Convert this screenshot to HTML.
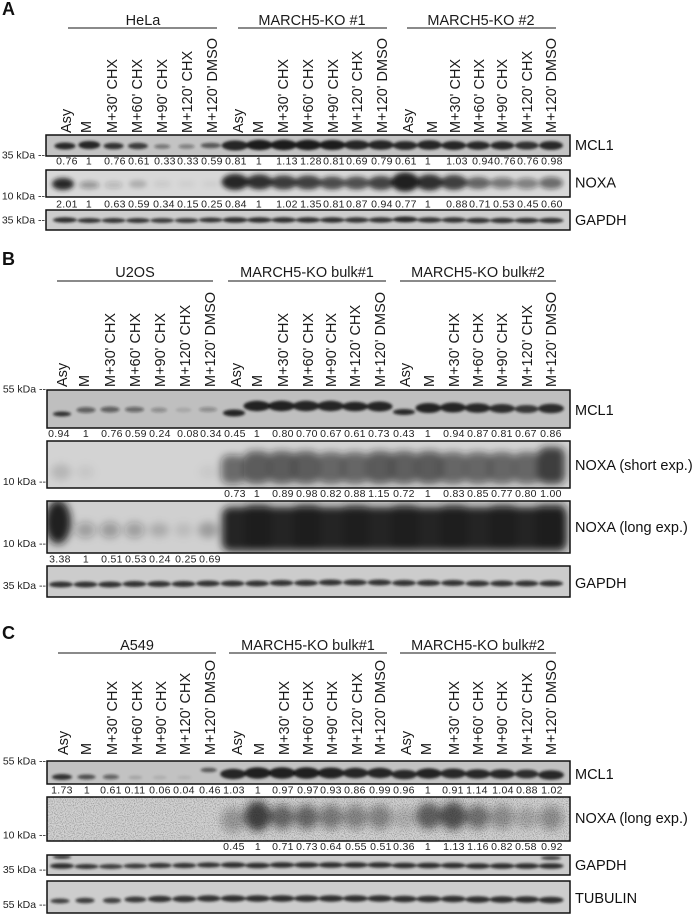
<!DOCTYPE html>
<html><head><meta charset="utf-8"><style>
html,body{margin:0;padding:0;background:#fff;}
svg{display:block;}
text{font-family:"Liberation Sans",Arial,sans-serif;}
.lab{font-size:14.5px;fill:#1a1a1a;}
.hdr{font-size:14.5px;fill:#1a1a1a;text-anchor:middle;}
.num{font-size:10.5px;fill:#222;text-anchor:middle;letter-spacing:0.3px;}
.mk{font-size:10.5px;fill:#222;text-anchor:end;}
.rl{font-size:14.5px;fill:#111;}
.pl{font-size:18px;font-weight:bold;fill:#111;}
.box{fill:none;stroke:#111;stroke-width:1.5;}
.ln{stroke:#444;stroke-width:1.3;}
</style></head><body>
<svg width="697" height="914" viewBox="0 0 697 914" xmlns="http://www.w3.org/2000/svg">
<defs>
<filter id="b1" x="-50%" y="-100%" width="200%" height="300%"><feGaussianBlur stdDeviation="1.3"/></filter>
<filter id="b2" x="-50%" y="-100%" width="200%" height="300%"><feGaussianBlur stdDeviation="2.5"/></filter>
<filter id="b3" x="-50%" y="-50%" width="200%" height="200%"><feGaussianBlur stdDeviation="4"/></filter>
<filter id="noise" x="0" y="0" width="100%" height="100%">
<feTurbulence type="fractalNoise" baseFrequency="0.9" numOctaves="1" seed="3" result="t"/>
<feColorMatrix in="t" type="matrix" values="0 0 0 0 0  0 0 0 0 0  0 0 0 0 0  0 0 0 -2.2 1.25" />
</filter>
<clipPath id="cA1"><rect x="46" y="135" width="524" height="21"/></clipPath>
<clipPath id="cA2"><rect x="46" y="170" width="524" height="27"/></clipPath>
<clipPath id="cA3"><rect x="46" y="210" width="524" height="20"/></clipPath>
<clipPath id="cB1"><rect x="47" y="390" width="523" height="38"/></clipPath>
<clipPath id="cB2"><rect x="47" y="441" width="523" height="47"/></clipPath>
<clipPath id="cB3"><rect x="47" y="501" width="523" height="52"/></clipPath>
<clipPath id="cB4"><rect x="47" y="566" width="523" height="31"/></clipPath>
<clipPath id="cC1"><rect x="47" y="761" width="523" height="23"/></clipPath>
<clipPath id="cC2"><rect x="47" y="797" width="523" height="44"/></clipPath>
<clipPath id="cC3"><rect x="47" y="855" width="523" height="20"/></clipPath>
<clipPath id="cC4"><rect x="47" y="881" width="523" height="32"/></clipPath>
</defs>

<!-- ================= PANEL A ================= -->
<text class="pl" x="2" y="15">A</text>
<text class="hdr" x="143" y="25">HeLa</text>
<text class="hdr" x="312" y="25">MARCH5-KO #1</text>
<text class="hdr" x="481" y="25">MARCH5-KO #2</text>
<line class="ln" x1="68" y1="28" x2="217" y2="28"/>
<line class="ln" x1="238" y1="28" x2="387" y2="28"/>
<line class="ln" x1="407" y1="28" x2="556" y2="28"/>

<g class="lab">
<text transform="translate(71,133) rotate(-90)">Asy</text>
<text transform="translate(91,133) rotate(-90)">M</text>
<text transform="translate(117,133) rotate(-90)">M+30' CHX</text>
<text transform="translate(142,133) rotate(-90)">M+60' CHX</text>
<text transform="translate(167,133) rotate(-90)">M+90' CHX</text>
<text transform="translate(192,133) rotate(-90)">M+120' CHX</text>
<text transform="translate(217,133) rotate(-90)">M+120' DMSO</text>
<text transform="translate(243,133) rotate(-90)">Asy</text>
<text transform="translate(263,133) rotate(-90)">M</text>
<text transform="translate(288,133) rotate(-90)">M+30' CHX</text>
<text transform="translate(313,133) rotate(-90)">M+60' CHX</text>
<text transform="translate(338,133) rotate(-90)">M+90' CHX</text>
<text transform="translate(362,133) rotate(-90)">M+120' CHX</text>
<text transform="translate(387,133) rotate(-90)">M+120' DMSO</text>
<text transform="translate(413,133) rotate(-90)">Asy</text>
<text transform="translate(437,133) rotate(-90)">M</text>
<text transform="translate(460,133) rotate(-90)">M+30' CHX</text>
<text transform="translate(484,133) rotate(-90)">M+60' CHX</text>
<text transform="translate(507,133) rotate(-90)">M+90' CHX</text>
<text transform="translate(532,133) rotate(-90)">M+120' CHX</text>
<text transform="translate(556,133) rotate(-90)">M+120' DMSO</text>
</g>

<!-- A MCL1 -->
<rect x="46" y="135" width="524" height="21" fill="#c3c3c3"/>
<g clip-path="url(#cA1)"><g fill="#1a1a1a" filter="url(#b1)">
<ellipse cx="65" cy="146" rx="10.5" ry="3.5" opacity="0.9"/>
<ellipse cx="89.3" cy="145" rx="11" ry="4" opacity="0.95"/>
<ellipse cx="113.6" cy="146" rx="10" ry="3.3" opacity="0.85"/>
<ellipse cx="137.9" cy="146" rx="10" ry="3.2" opacity="0.8"/>
<ellipse cx="162.2" cy="146.5" rx="8" ry="2.3" opacity="0.45"/>
<ellipse cx="186.5" cy="146.5" rx="8" ry="2.3" opacity="0.4"/>
<ellipse cx="210.8" cy="145.5" rx="10" ry="2.8" opacity="0.65"/>
<ellipse cx="235.1" cy="145.5" rx="13.5" ry="5" opacity="0.95"/>
<ellipse cx="259.4" cy="145" rx="13.5" ry="5.2" opacity="1"/>
<ellipse cx="283.7" cy="145" rx="13.5" ry="5.2" opacity="1"/>
<ellipse cx="308" cy="145" rx="13.5" ry="5.2" opacity="1"/>
<ellipse cx="332.3" cy="145" rx="13.5" ry="5" opacity="1"/>
<ellipse cx="356.6" cy="145" rx="13" ry="4.7" opacity="0.95"/>
<ellipse cx="380.9" cy="145" rx="13" ry="4.7" opacity="0.95"/>
<ellipse cx="405.2" cy="145.5" rx="12.5" ry="4.4" opacity="0.9"/>
<ellipse cx="429.5" cy="145" rx="12.5" ry="4.7" opacity="0.95"/>
<ellipse cx="453.8" cy="145.5" rx="12.5" ry="4.5" opacity="0.95"/>
<ellipse cx="478.1" cy="145.5" rx="12" ry="4.2" opacity="0.9"/>
<ellipse cx="502.4" cy="145.5" rx="12" ry="4.2" opacity="0.9"/>
<ellipse cx="526.7" cy="145.5" rx="12" ry="4" opacity="0.85"/>
<ellipse cx="551" cy="145.5" rx="12" ry="4.4" opacity="0.9"/>
</g></g>
<rect class="box" x="46" y="135" width="524" height="21"/>
<g class="num">
<text x="67" y="164.5">0.76</text><text x="89" y="164.5">1</text><text x="115" y="164.5">0.76</text><text x="139" y="164.5">0.61</text><text x="165" y="164.5">0.33</text><text x="188" y="164.5">0.33</text><text x="212" y="164.5">0.59</text><text x="236" y="164.5">0.81</text><text x="259" y="164.5">1</text><text x="287" y="164.5">1.13</text><text x="311" y="164.5">1.28</text><text x="334" y="164.5">0.81</text><text x="357" y="164.5">0.69</text><text x="382" y="164.5">0.79</text><text x="406" y="164.5">0.61</text><text x="428" y="164.5">1</text><text x="457" y="164.5">1.03</text><text x="483" y="164.5">0.94</text><text x="505" y="164.5">0.76</text><text x="528" y="164.5">0.76</text><text x="552" y="164.5">0.98</text>
</g>

<!-- A NOXA -->
<rect x="46" y="170" width="524" height="27" fill="#d8d8d8"/>
<g clip-path="url(#cA2)"><g fill="#1a1a1a" filter="url(#b2)">
<ellipse cx="63" cy="184" rx="11" ry="6" opacity="0.95"/>
<ellipse cx="89.3" cy="185" rx="10" ry="3.8" opacity="0.35"/>
<ellipse cx="113.6" cy="185" rx="9" ry="3.5" opacity="0.18"/>
<ellipse cx="137.9" cy="184" rx="9" ry="4" opacity="0.2"/>
<ellipse cx="162.2" cy="184" rx="9" ry="4" opacity="0.06"/>
<ellipse cx="186.5" cy="184" rx="9" ry="4" opacity="0.04"/>
<ellipse cx="210.8" cy="184" rx="9" ry="4" opacity="0.04"/>
<ellipse cx="235.1" cy="182" rx="13.5" ry="8" opacity="0.92"/>
<ellipse cx="259.4" cy="182" rx="13.5" ry="7.5" opacity="0.88"/>
<ellipse cx="283.7" cy="182.5" rx="13.5" ry="7" opacity="0.82"/>
<ellipse cx="308" cy="182.5" rx="13.5" ry="7" opacity="0.8"/>
<ellipse cx="332.3" cy="183" rx="13" ry="6.5" opacity="0.74"/>
<ellipse cx="356.6" cy="183" rx="13" ry="6.5" opacity="0.72"/>
<ellipse cx="380.9" cy="183" rx="13" ry="7" opacity="0.78"/>
<ellipse cx="405.2" cy="182" rx="14" ry="9.5" opacity="0.98"/>
<ellipse cx="429.5" cy="182.5" rx="13.5" ry="8" opacity="0.88"/>
<ellipse cx="453.8" cy="182.5" rx="13.5" ry="7.5" opacity="0.8"/>
<ellipse cx="478.1" cy="183" rx="12.5" ry="6" opacity="0.62"/>
<ellipse cx="502.4" cy="183" rx="12.5" ry="5.5" opacity="0.5"/>
<ellipse cx="526.7" cy="183.5" rx="12" ry="5.5" opacity="0.45"/>
<ellipse cx="551" cy="183" rx="12" ry="6" opacity="0.55"/>
</g></g>
<rect class="box" x="46" y="170" width="524" height="27"/>
<g class="num">
<text x="67" y="207.5">2.01</text><text x="89" y="207.5">1</text><text x="115" y="207.5">0.63</text><text x="139" y="207.5">0.59</text><text x="164" y="207.5">0.34</text><text x="188" y="207.5">0.15</text><text x="212" y="207.5">0.25</text><text x="236" y="207.5">0.84</text><text x="259" y="207.5">1</text><text x="287" y="207.5">1.02</text><text x="311" y="207.5">1.35</text><text x="334" y="207.5">0.81</text><text x="357" y="207.5">0.87</text><text x="382" y="207.5">0.94</text><text x="406" y="207.5">0.77</text><text x="428" y="207.5">1</text><text x="457" y="207.5">0.88</text><text x="480" y="207.5">0.71</text><text x="504" y="207.5">0.53</text><text x="528" y="207.5">0.45</text><text x="552" y="207.5">0.60</text>
</g>

<!-- A GAPDH -->
<rect x="46" y="210" width="524" height="20" fill="#cdcdcd"/>
<g clip-path="url(#cA3)"><g fill="#1a1a1a" filter="url(#b1)">
<ellipse cx="65" cy="220" rx="12" ry="2.7" opacity="0.88"/>
<ellipse cx="89.3" cy="220.5" rx="12" ry="2.5" opacity="0.85"/>
<ellipse cx="113.6" cy="220.5" rx="12" ry="2.5" opacity="0.85"/>
<ellipse cx="137.9" cy="220.5" rx="12" ry="2.5" opacity="0.85"/>
<ellipse cx="162.2" cy="220.5" rx="12" ry="2.4" opacity="0.82"/>
<ellipse cx="186.5" cy="220.5" rx="12" ry="2.4" opacity="0.82"/>
<ellipse cx="210.8" cy="220" rx="12" ry="2.5" opacity="0.85"/>
<ellipse cx="235.1" cy="220" rx="12.5" ry="2.8" opacity="0.88"/>
<ellipse cx="259.4" cy="220" rx="12.5" ry="2.7" opacity="0.88"/>
<ellipse cx="283.7" cy="220" rx="12.5" ry="2.7" opacity="0.88"/>
<ellipse cx="308" cy="220" rx="12.5" ry="2.7" opacity="0.88"/>
<ellipse cx="332.3" cy="220" rx="12.5" ry="2.7" opacity="0.88"/>
<ellipse cx="356.6" cy="220" rx="12.5" ry="2.7" opacity="0.85"/>
<ellipse cx="380.9" cy="220" rx="12.5" ry="2.7" opacity="0.85"/>
<ellipse cx="405.2" cy="219.5" rx="12.5" ry="3" opacity="0.9"/>
<ellipse cx="429.5" cy="220" rx="12.5" ry="2.7" opacity="0.85"/>
<ellipse cx="453.8" cy="220" rx="12.5" ry="2.7" opacity="0.85"/>
<ellipse cx="478.1" cy="220.5" rx="12.5" ry="2.7" opacity="0.85"/>
<ellipse cx="502.4" cy="220.5" rx="12.5" ry="2.7" opacity="0.85"/>
<ellipse cx="526.7" cy="220.5" rx="12.5" ry="2.7" opacity="0.85"/>
<ellipse cx="551" cy="220.5" rx="12.5" ry="2.7" opacity="0.85"/>
</g></g>
<rect class="box" x="46" y="210" width="524" height="20"/>

<g class="mk">
<text x="45" y="158.5">35 kDa --</text>
<text x="45" y="199.5">10 kDa --</text>
<text x="45" y="223.5">35 kDa --</text>
</g>
<g class="rl">
<text x="575" y="150">MCL1</text>
<text x="575" y="187.5">NOXA</text>
<text x="575" y="225">GAPDH</text>
</g>

<!-- ================= PANEL B ================= -->
<text class="pl" x="2" y="265">B</text>
<text class="hdr" x="135" y="277">U2OS</text>
<text class="hdr" x="307" y="277">MARCH5-KO bulk#1</text>
<text class="hdr" x="478" y="277">MARCH5-KO bulk#2</text>
<line class="ln" x1="57" y1="281" x2="213" y2="281"/>
<line class="ln" x1="228" y1="281" x2="386" y2="281"/>
<line class="ln" x1="400" y1="281" x2="556" y2="281"/>

<g class="lab">
<text transform="translate(67,387) rotate(-90)">Asy</text>
<text transform="translate(89,387) rotate(-90)">M</text>
<text transform="translate(115,387) rotate(-90)">M+30' CHX</text>
<text transform="translate(140,387) rotate(-90)">M+60' CHX</text>
<text transform="translate(165,387) rotate(-90)">M+90' CHX</text>
<text transform="translate(190,387) rotate(-90)">M+120' CHX</text>
<text transform="translate(215,387) rotate(-90)">M+120' DMSO</text>
<text transform="translate(241,387) rotate(-90)">Asy</text>
<text transform="translate(262,387) rotate(-90)">M</text>
<text transform="translate(288,387) rotate(-90)">M+30' CHX</text>
<text transform="translate(313,387) rotate(-90)">M+60' CHX</text>
<text transform="translate(336,387) rotate(-90)">M+90' CHX</text>
<text transform="translate(360,387) rotate(-90)">M+120' CHX</text>
<text transform="translate(385,387) rotate(-90)">M+120' DMSO</text>
<text transform="translate(410,387) rotate(-90)">Asy</text>
<text transform="translate(434,387) rotate(-90)">M</text>
<text transform="translate(459,387) rotate(-90)">M+30' CHX</text>
<text transform="translate(483,387) rotate(-90)">M+60' CHX</text>
<text transform="translate(507,387) rotate(-90)">M+90' CHX</text>
<text transform="translate(532,387) rotate(-90)">M+120' CHX</text>
<text transform="translate(556,387) rotate(-90)">M+120' DMSO</text>
</g>

<!-- B MCL1 -->
<rect x="47" y="390" width="523" height="38" fill="#bfbfbf"/>
<g clip-path="url(#cB1)"><g fill="#1a1a1a" filter="url(#b1)">
<ellipse cx="62" cy="414" rx="9" ry="2.5" opacity="0.85"/>
<ellipse cx="86" cy="410" rx="9.5" ry="3" opacity="0.55"/>
<ellipse cx="110" cy="409.5" rx="9.5" ry="3" opacity="0.55"/>
<ellipse cx="134.5" cy="409.5" rx="9.5" ry="2.8" opacity="0.5"/>
<ellipse cx="159" cy="410" rx="8" ry="2.5" opacity="0.3"/>
<ellipse cx="183.5" cy="410" rx="8" ry="2.5" opacity="0.12"/>
<ellipse cx="208" cy="409.5" rx="9" ry="2.5" opacity="0.3"/>
<ellipse cx="234" cy="413" rx="11" ry="3.5" opacity="0.92"/>
<ellipse cx="257" cy="406" rx="13.5" ry="5.2" opacity="0.97"/>
<ellipse cx="281.5" cy="406" rx="13.5" ry="5.2" opacity="0.97"/>
<ellipse cx="306" cy="406" rx="13.5" ry="5.2" opacity="0.95"/>
<ellipse cx="330.5" cy="406" rx="13.5" ry="5.2" opacity="0.95"/>
<ellipse cx="355" cy="406.5" rx="13" ry="4.8" opacity="0.92"/>
<ellipse cx="379.5" cy="406.5" rx="13" ry="5" opacity="0.95"/>
<ellipse cx="404" cy="412" rx="11" ry="3" opacity="0.9"/>
<ellipse cx="428.5" cy="408" rx="13" ry="5" opacity="0.93"/>
<ellipse cx="453" cy="407.5" rx="13" ry="5" opacity="0.92"/>
<ellipse cx="477.5" cy="408" rx="13" ry="4.7" opacity="0.9"/>
<ellipse cx="502" cy="408.5" rx="13" ry="4.5" opacity="0.87"/>
<ellipse cx="526.5" cy="409" rx="12" ry="4" opacity="0.82"/>
<ellipse cx="551" cy="408.5" rx="13" ry="4.7" opacity="0.88"/>
</g></g>
<rect class="box" x="47" y="390" width="523" height="38"/>
<g class="num">
<text x="59" y="437">0.94</text><text x="86" y="437">1</text><text x="112" y="437">0.76</text><text x="136" y="437">0.59</text><text x="160" y="437">0.24</text><text x="188" y="437">0.08</text><text x="211" y="437">0.34</text><text x="235" y="437">0.45</text><text x="257" y="437">1</text><text x="283" y="437">0.80</text><text x="307" y="437">0.70</text><text x="331" y="437">0.67</text><text x="355" y="437">0.61</text><text x="379" y="437">0.73</text><text x="404" y="437">0.43</text><text x="428" y="437">1</text><text x="454" y="437">0.94</text><text x="478" y="437">0.87</text><text x="502" y="437">0.81</text><text x="526" y="437">0.67</text><text x="551" y="437">0.86</text>
</g>

<!-- B NOXA short -->
<rect x="47" y="441" width="523" height="47" fill="#d3d3d3"/>
<g clip-path="url(#cB2)"><g fill="#1a1a1a" filter="url(#b3)">
<ellipse cx="61" cy="472" rx="10" ry="8" opacity="0.14"/>
<ellipse cx="85.5" cy="472" rx="9" ry="7" opacity="0.06"/>
<ellipse cx="208" cy="472" rx="9" ry="7" opacity="0.05"/>
<rect x="221" y="455" width="24" height="29" rx="8" opacity="0.55"/>
<rect x="244" y="451" width="26" height="33" rx="8" opacity="0.65"/>
<rect x="269" y="451" width="26" height="33" rx="8" opacity="0.65"/>
<rect x="293" y="451" width="26" height="33" rx="8" opacity="0.65"/>
<rect x="318" y="452" width="26" height="32" rx="8" opacity="0.6"/>
<rect x="342" y="452" width="26" height="32" rx="8" opacity="0.6"/>
<rect x="367" y="451" width="26" height="33" rx="8" opacity="0.66"/>
<rect x="391" y="451" width="26" height="33" rx="8" opacity="0.64"/>
<rect x="416" y="451" width="26" height="33" rx="8" opacity="0.66"/>
<rect x="440" y="452" width="26" height="32" rx="8" opacity="0.6"/>
<rect x="465" y="452" width="26" height="32" rx="8" opacity="0.6"/>
<rect x="489" y="452" width="26" height="32" rx="8" opacity="0.6"/>
<rect x="514" y="452" width="26" height="32" rx="8" opacity="0.6"/>
<rect x="538" y="447" width="27" height="37" rx="8" opacity="0.8"/>
</g></g>
<rect class="box" x="47" y="441" width="523" height="47"/>
<g class="num">
<text x="235" y="497">0.73</text><text x="257" y="497">1</text><text x="283" y="497">0.89</text><text x="307" y="497">0.98</text><text x="331" y="497">0.82</text><text x="355" y="497">0.88</text><text x="379" y="497">1.15</text><text x="404" y="497">0.72</text><text x="428" y="497">1</text><text x="454" y="497">0.83</text><text x="478" y="497">0.85</text><text x="502" y="497">0.77</text><text x="526" y="497">0.80</text><text x="551" y="497">1.00</text>
</g>

<!-- B NOXA long -->
<rect x="47" y="501" width="523" height="52" fill="#d0d0d0"/>
<g clip-path="url(#cB3)"><g fill="#141414" filter="url(#b3)">
<ellipse cx="58" cy="522" rx="13" ry="22" opacity="0.95"/>
<ellipse cx="85.5" cy="530" rx="10" ry="8" opacity="0.28"/>
<ellipse cx="110" cy="530" rx="10" ry="8" opacity="0.3"/>
<ellipse cx="134.5" cy="530" rx="10" ry="8" opacity="0.28"/>
<ellipse cx="159" cy="530" rx="10" ry="7" opacity="0.18"/>
<ellipse cx="183.5" cy="530" rx="9" ry="7" opacity="0.1"/>
<ellipse cx="208" cy="530" rx="10" ry="8" opacity="0.25"/>
<rect x="222" y="507" width="345" height="44" rx="8" opacity="0.93"/>
<rect x="245" y="503" width="26" height="48" rx="6" opacity="0.5"/>
<rect x="294" y="503" width="26" height="48" rx="6" opacity="0.5"/>
<rect x="343" y="503" width="26" height="48" rx="6" opacity="0.4"/>
<rect x="392" y="503" width="26" height="48" rx="6" opacity="0.45"/>
<rect x="441" y="503" width="26" height="48" rx="6" opacity="0.45"/>
<rect x="490" y="503" width="26" height="48" rx="6" opacity="0.45"/>
<rect x="536" y="503" width="30" height="48" rx="6" opacity="0.5"/>
</g></g>
<rect class="box" x="47" y="501" width="523" height="52"/>
<g class="num">
<text x="60" y="562.5">3.38</text><text x="86" y="562.5">1</text><text x="112" y="562.5">0.51</text><text x="136" y="562.5">0.53</text><text x="160" y="562.5">0.24</text><text x="186" y="562.5">0.25</text><text x="210" y="562.5">0.69</text>
</g>

<!-- B GAPDH -->
<rect x="47" y="566" width="523" height="31" fill="#cccccc"/>
<g clip-path="url(#cB4)"><g fill="#1a1a1a" filter="url(#b1)">
<ellipse cx="61" cy="584.5" rx="12" ry="3" opacity="0.85"/>
<ellipse cx="85.5" cy="584.5" rx="12" ry="3" opacity="0.85"/>
<ellipse cx="110" cy="584.5" rx="12" ry="3" opacity="0.85"/>
<ellipse cx="134.5" cy="584" rx="12" ry="3" opacity="0.85"/>
<ellipse cx="159" cy="584" rx="12" ry="3" opacity="0.85"/>
<ellipse cx="183.5" cy="584" rx="12" ry="3" opacity="0.85"/>
<ellipse cx="208" cy="583.5" rx="12" ry="3" opacity="0.85"/>
<ellipse cx="232.5" cy="583.5" rx="12" ry="3" opacity="0.85"/>
<ellipse cx="257" cy="583.5" rx="12" ry="3" opacity="0.85"/>
<ellipse cx="281.5" cy="583" rx="12" ry="3" opacity="0.85"/>
<ellipse cx="306" cy="583" rx="12" ry="3" opacity="0.85"/>
<ellipse cx="330.5" cy="582.5" rx="12" ry="3" opacity="0.85"/>
<ellipse cx="355" cy="582.5" rx="12" ry="3" opacity="0.85"/>
<ellipse cx="379.5" cy="582.5" rx="12" ry="3" opacity="0.85"/>
<ellipse cx="404" cy="583" rx="12" ry="3" opacity="0.85"/>
<ellipse cx="428.5" cy="583" rx="12" ry="3" opacity="0.85"/>
<ellipse cx="453" cy="583" rx="12" ry="3" opacity="0.85"/>
<ellipse cx="477.5" cy="583.5" rx="12" ry="3" opacity="0.85"/>
<ellipse cx="502" cy="583.5" rx="12" ry="3" opacity="0.85"/>
<ellipse cx="526.5" cy="583.5" rx="12" ry="3" opacity="0.85"/>
<ellipse cx="551" cy="583.5" rx="12" ry="3" opacity="0.85"/>
</g></g>
<rect class="box" x="47" y="566" width="523" height="31"/>

<g class="mk">
<text x="46" y="392.5">55 kDa --</text>
<text x="46" y="485">10 kDa --</text>
<text x="46" y="547">10 kDa --</text>
<text x="46" y="589">35 kDa --</text>
</g>
<g class="rl">
<text x="575" y="415">MCL1</text>
<text x="575" y="470">NOXA (short exp.)</text>
<text x="575" y="532">NOXA (long exp.)</text>
<text x="575" y="588">GAPDH</text>
</g>

<!-- ================= PANEL C ================= -->
<text class="pl" x="2" y="639">C</text>
<text class="hdr" x="137" y="650">A549</text>
<text class="hdr" x="308" y="650">MARCH5-KO bulk#1</text>
<text class="hdr" x="478" y="650">MARCH5-KO bulk#2</text>
<line class="ln" x1="58" y1="653" x2="216" y2="653"/>
<line class="ln" x1="229" y1="653" x2="387" y2="653"/>
<line class="ln" x1="400" y1="653" x2="556" y2="653"/>

<g class="lab">
<text transform="translate(68,755) rotate(-90)">Asy</text>
<text transform="translate(91,755) rotate(-90)">M</text>
<text transform="translate(117,755) rotate(-90)">M+30' CHX</text>
<text transform="translate(142,755) rotate(-90)">M+60' CHX</text>
<text transform="translate(166,755) rotate(-90)">M+90' CHX</text>
<text transform="translate(190,755) rotate(-90)">M+120' CHX</text>
<text transform="translate(215,755) rotate(-90)">M+120' DMSO</text>
<text transform="translate(242,755) rotate(-90)">Asy</text>
<text transform="translate(264,755) rotate(-90)">M</text>
<text transform="translate(289,755) rotate(-90)">M+30' CHX</text>
<text transform="translate(313,755) rotate(-90)">M+60' CHX</text>
<text transform="translate(337,755) rotate(-90)">M+90' CHX</text>
<text transform="translate(362,755) rotate(-90)">M+120' CHX</text>
<text transform="translate(385,755) rotate(-90)">M+120' DMSO</text>
<text transform="translate(411,755) rotate(-90)">Asy</text>
<text transform="translate(431,755) rotate(-90)">M</text>
<text transform="translate(459,755) rotate(-90)">M+30' CHX</text>
<text transform="translate(483,755) rotate(-90)">M+60' CHX</text>
<text transform="translate(507,755) rotate(-90)">M+90' CHX</text>
<text transform="translate(532,755) rotate(-90)">M+120' CHX</text>
<text transform="translate(556,755) rotate(-90)">M+120' DMSO</text>
</g>

<!-- C MCL1 -->
<rect x="47" y="761" width="523" height="23" fill="#c2c2c2"/>
<g clip-path="url(#cC1)"><g fill="#1a1a1a" filter="url(#b1)">
<ellipse cx="62" cy="777" rx="10" ry="3" opacity="0.85"/>
<ellipse cx="86.5" cy="777" rx="9" ry="2.5" opacity="0.7"/>
<ellipse cx="110.9" cy="777" rx="8" ry="2.5" opacity="0.55"/>
<ellipse cx="135.4" cy="777.5" rx="7" ry="2" opacity="0.15"/>
<ellipse cx="159.8" cy="777.5" rx="7" ry="2" opacity="0.1"/>
<ellipse cx="184.3" cy="777.5" rx="7" ry="2" opacity="0.08"/>
<ellipse cx="208.7" cy="770" rx="8" ry="2.3" opacity="0.65"/>
<ellipse cx="233.2" cy="774" rx="13" ry="5.2" opacity="0.95"/>
<ellipse cx="257.6" cy="773" rx="13.5" ry="5.7" opacity="0.98"/>
<ellipse cx="282.1" cy="773" rx="13.5" ry="5.7" opacity="0.98"/>
<ellipse cx="306.5" cy="773" rx="13.5" ry="5.7" opacity="0.98"/>
<ellipse cx="331" cy="773" rx="13.5" ry="5.5" opacity="0.97"/>
<ellipse cx="355.4" cy="773" rx="13" ry="5.2" opacity="0.95"/>
<ellipse cx="379.9" cy="773" rx="13" ry="5.2" opacity="0.95"/>
<ellipse cx="404.3" cy="774.5" rx="13" ry="4.7" opacity="0.9"/>
<ellipse cx="428.8" cy="773.5" rx="13" ry="5.2" opacity="0.93"/>
<ellipse cx="453.2" cy="773.5" rx="13" ry="5" opacity="0.9"/>
<ellipse cx="477.7" cy="774" rx="13" ry="4.7" opacity="0.9"/>
<ellipse cx="502.1" cy="774" rx="13" ry="4.7" opacity="0.9"/>
<ellipse cx="526.6" cy="774" rx="12" ry="4.4" opacity="0.87"/>
<ellipse cx="551" cy="775" rx="13" ry="4.7" opacity="0.9"/>
</g></g>
<rect class="box" x="47" y="761" width="523" height="23"/>
<g class="num">
<text x="62" y="793.5">1.73</text><text x="87" y="793.5">1</text><text x="111" y="793.5">0.61</text><text x="135" y="793.5">0.11</text><text x="160" y="793.5">0.06</text><text x="184" y="793.5">0.04</text><text x="210" y="793.5">0.46</text><text x="234" y="793.5">1.03</text><text x="258" y="793.5">1</text><text x="283" y="793.5">0.97</text><text x="308" y="793.5">0.97</text><text x="331" y="793.5">0.93</text><text x="355" y="793.5">0.86</text><text x="380" y="793.5">0.99</text><text x="404" y="793.5">0.96</text><text x="428" y="793.5">1</text><text x="453" y="793.5">0.91</text><text x="477" y="793.5">1.14</text><text x="503" y="793.5">1.04</text><text x="527" y="793.5">0.88</text><text x="552" y="793.5">1.02</text>
</g>

<!-- C NOXA -->
<rect x="47" y="797" width="523" height="44" fill="#d2d2d2"/>
<rect x="47" y="797" width="523" height="44" filter="url(#noise)" opacity="0.35"/>
<g clip-path="url(#cC2)"><g fill="#1a1a1a" filter="url(#b3)">
<ellipse cx="233.2" cy="820" rx="12" ry="12" opacity="0.3"/>
<ellipse cx="257.6" cy="816" rx="13" ry="15" opacity="0.78"/>
<ellipse cx="282.1" cy="817" rx="12" ry="12" opacity="0.55"/>
<ellipse cx="306.5" cy="817" rx="12" ry="12" opacity="0.55"/>
<ellipse cx="331" cy="817" rx="12" ry="12" opacity="0.45"/>
<ellipse cx="355.4" cy="817" rx="12" ry="12" opacity="0.4"/>
<ellipse cx="379.9" cy="817" rx="12" ry="12" opacity="0.4"/>
<ellipse cx="404.3" cy="818" rx="11" ry="11" opacity="0.15"/>
<ellipse cx="428.8" cy="816" rx="13" ry="13" opacity="0.62"/>
<ellipse cx="453.2" cy="816" rx="13" ry="14" opacity="0.7"/>
<ellipse cx="477.7" cy="817" rx="12" ry="12" opacity="0.5"/>
<ellipse cx="502.1" cy="817" rx="12" ry="12" opacity="0.35"/>
<ellipse cx="526.6" cy="818" rx="11" ry="11" opacity="0.2"/>
<ellipse cx="551" cy="818" rx="12" ry="12" opacity="0.35"/>
</g></g>
<rect class="box" x="47" y="797" width="523" height="44"/>
<g class="num">
<text x="234" y="850">0.45</text><text x="258" y="850">1</text><text x="283" y="850">0.71</text><text x="307" y="850">0.73</text><text x="331" y="850">0.64</text><text x="356" y="850">0.55</text><text x="381" y="850">0.51</text><text x="404" y="850">0.36</text><text x="428" y="850">1</text><text x="454" y="850">1.13</text><text x="478" y="850">1.16</text><text x="502" y="850">0.82</text><text x="526" y="850">0.58</text><text x="552" y="850">0.92</text>
</g>

<!-- C GAPDH -->
<rect x="47" y="855" width="523" height="20" fill="#cacaca"/>
<g clip-path="url(#cC3)"><g fill="#1a1a1a" filter="url(#b1)">
<ellipse cx="62" cy="857" rx="9" ry="2" opacity="0.8"/>
<ellipse cx="551" cy="858" rx="10" ry="2" opacity="0.75"/>
<ellipse cx="62" cy="866" rx="12" ry="2.8" opacity="0.88"/>
<ellipse cx="86.5" cy="866.5" rx="12" ry="2.5" opacity="0.85"/>
<ellipse cx="110.9" cy="866.5" rx="12" ry="2.5" opacity="0.8"/>
<ellipse cx="135.4" cy="866" rx="12" ry="2.5" opacity="0.82"/>
<ellipse cx="159.8" cy="865.5" rx="12" ry="2.6" opacity="0.85"/>
<ellipse cx="184.3" cy="865.5" rx="12" ry="2.6" opacity="0.85"/>
<ellipse cx="208.7" cy="865" rx="12" ry="2.6" opacity="0.85"/>
<ellipse cx="233.2" cy="865" rx="12.5" ry="2.8" opacity="0.88"/>
<ellipse cx="257.6" cy="865.5" rx="12.5" ry="2.8" opacity="0.88"/>
<ellipse cx="282.1" cy="865" rx="12.5" ry="2.8" opacity="0.88"/>
<ellipse cx="306.5" cy="865" rx="12.5" ry="2.8" opacity="0.88"/>
<ellipse cx="331" cy="865" rx="12.5" ry="2.8" opacity="0.88"/>
<ellipse cx="355.4" cy="865" rx="12.5" ry="2.8" opacity="0.88"/>
<ellipse cx="379.9" cy="865" rx="12.5" ry="2.8" opacity="0.88"/>
<ellipse cx="404.3" cy="865.5" rx="12.5" ry="2.8" opacity="0.88"/>
<ellipse cx="428.8" cy="865.5" rx="12.5" ry="2.8" opacity="0.88"/>
<ellipse cx="453.2" cy="865.5" rx="12.5" ry="2.8" opacity="0.88"/>
<ellipse cx="477.7" cy="866" rx="12.5" ry="2.8" opacity="0.88"/>
<ellipse cx="502.1" cy="866" rx="12.5" ry="2.8" opacity="0.88"/>
<ellipse cx="526.6" cy="866" rx="12.5" ry="2.8" opacity="0.88"/>
<ellipse cx="551" cy="866" rx="12.5" ry="2.8" opacity="0.88"/>
</g></g>
<rect class="box" x="47" y="855" width="523" height="20"/>

<!-- C TUBULIN -->
<rect x="47" y="881" width="523" height="32" fill="#cdcdcd"/>
<g clip-path="url(#cC4)"><g fill="#1a1a1a" filter="url(#b1)">
<ellipse cx="60" cy="901" rx="9.5" ry="2.5" opacity="0.78"/>
<ellipse cx="85" cy="900.5" rx="9.5" ry="2.8" opacity="0.8"/>
<ellipse cx="112" cy="900.5" rx="9" ry="2.8" opacity="0.78"/>
<ellipse cx="135.4" cy="899.5" rx="11" ry="3" opacity="0.82"/>
<ellipse cx="159.8" cy="899" rx="12" ry="3.2" opacity="0.85"/>
<ellipse cx="184.3" cy="899" rx="12" ry="3.2" opacity="0.85"/>
<ellipse cx="208.7" cy="898.5" rx="12" ry="3.2" opacity="0.85"/>
<ellipse cx="233.2" cy="898.5" rx="12.5" ry="3.3" opacity="0.87"/>
<ellipse cx="257.6" cy="898.5" rx="12.5" ry="3.3" opacity="0.87"/>
<ellipse cx="282.1" cy="898.5" rx="12.5" ry="3.3" opacity="0.87"/>
<ellipse cx="306.5" cy="898.5" rx="12.5" ry="3.3" opacity="0.87"/>
<ellipse cx="331" cy="898.5" rx="12.5" ry="3.3" opacity="0.87"/>
<ellipse cx="355.4" cy="898.5" rx="12.5" ry="3.3" opacity="0.87"/>
<ellipse cx="379.9" cy="898.5" rx="12.5" ry="3.3" opacity="0.87"/>
<ellipse cx="404.3" cy="899" rx="12.5" ry="3.3" opacity="0.87"/>
<ellipse cx="428.8" cy="899" rx="12.5" ry="3.3" opacity="0.87"/>
<ellipse cx="453.2" cy="899" rx="12.5" ry="3.3" opacity="0.87"/>
<ellipse cx="477.7" cy="899.5" rx="12.5" ry="3.3" opacity="0.87"/>
<ellipse cx="502.1" cy="899.5" rx="12.5" ry="3.3" opacity="0.87"/>
<ellipse cx="526.6" cy="899.5" rx="12.5" ry="3.3" opacity="0.87"/>
<ellipse cx="551" cy="900" rx="12.5" ry="3.3" opacity="0.87"/>
</g></g>
<rect class="box" x="47" y="881" width="523" height="32"/>

<g class="mk">
<text x="46" y="764.5">55 kDa --</text>
<text x="46" y="838.5">10 kDa --</text>
<text x="46" y="873">35 kDa --</text>
<text x="46" y="908">55 kDa --</text>
</g>
<g class="rl">
<text x="575" y="779">MCL1</text>
<text x="575" y="823">NOXA (long exp.)</text>
<text x="575" y="870">GAPDH</text>
<text x="575" y="903">TUBULIN</text>
</g>
</svg>
</body></html>
